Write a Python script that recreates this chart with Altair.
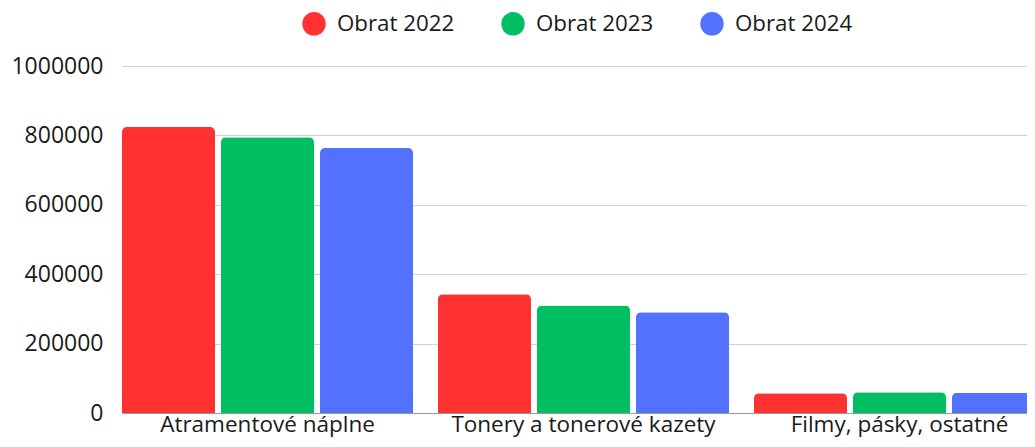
import altair as alt
import pandas as pd

categories = ["Atramentové náplne", "Tonery a tonerové kazety", "Filmy, pásky, ostatné"]
series = ["Obrat 2022", "Obrat 2023", "Obrat 2024"]
obrat_2022 = [824000, 342000, 57000]
obrat_2023 = [795000, 310000, 60000]
obrat_2024 = [764000, 290000, 58000]
colors = ["#FF3131", "#00BF63", "#5271FF"]
y_ticks = [0, 200000, 400000, 600000, 800000, 1000000]

rows = []
for s, vals in zip(series, [obrat_2022, obrat_2023, obrat_2024]):
    for c, v in zip(categories, vals):
        rows.append({"kategoria": c, "seria": s, "hodnota": v})
df = pd.DataFrame(rows)

FONT = "Open Sans"

chart = alt.Chart(df).mark_bar(cornerRadiusTopLeft=5, cornerRadiusTopRight=5).encode(
    x=alt.X("kategoria:N", sort=categories, title=None,
            scale=alt.Scale(paddingInner=0.0791, paddingOuter=0, range=[0, 923]),
            axis=alt.Axis(labelAngle=0, domain=True, domainColor="#9a9a9a", domainWidth=1,
                          ticks=False, tickSize=0, labelPadding=0, labelFontSize=22.5,
                          labelLimit=400,
                          labelFont=FONT, labelColor="#1a1a1a", grid=False)),
    xOffset=alt.XOffset("seria:N", sort=series,
                        scale=alt.Scale(paddingInner=0.0606, paddingOuter=0)),
    y=alt.Y("hodnota:Q", title=None,
            scale=alt.Scale(domain=[0, 1000000], nice=False),
            axis=alt.Axis(values=y_ticks, format="d", domain=False, ticks=False, tickSize=0,
                          labelPadding=19, labelFontSize=23, labelFont=FONT,
                          labelColor="#1a1a1a", grid=True, gridColor="#d2d2d2", gridWidth=1)),
    color=alt.Color("seria:N", sort=series,
                    scale=alt.Scale(domain=series, range=colors),
                    legend=alt.Legend(title=None, orient="none", legendX=180, legendY=-54.3,
                                      direction="horizontal", symbolType="circle",
                                      symbolSize=550, symbolStrokeWidth=0,
                                      labelFontSize=22.3, labelFont=FONT, labelColor="#1a1a1a",
                                      labelOffset=11, columnPadding=46, padding=0)),
).properties(
    width=905, height=347,
    padding={"left": 114, "top": 58, "right": 0, "bottom": 26},
    autosize=alt.AutoSizeParams(type="none"),
).configure_view(stroke=None)

chart.save("out.html", embed_options={"renderer": "svg", "actions": False})
